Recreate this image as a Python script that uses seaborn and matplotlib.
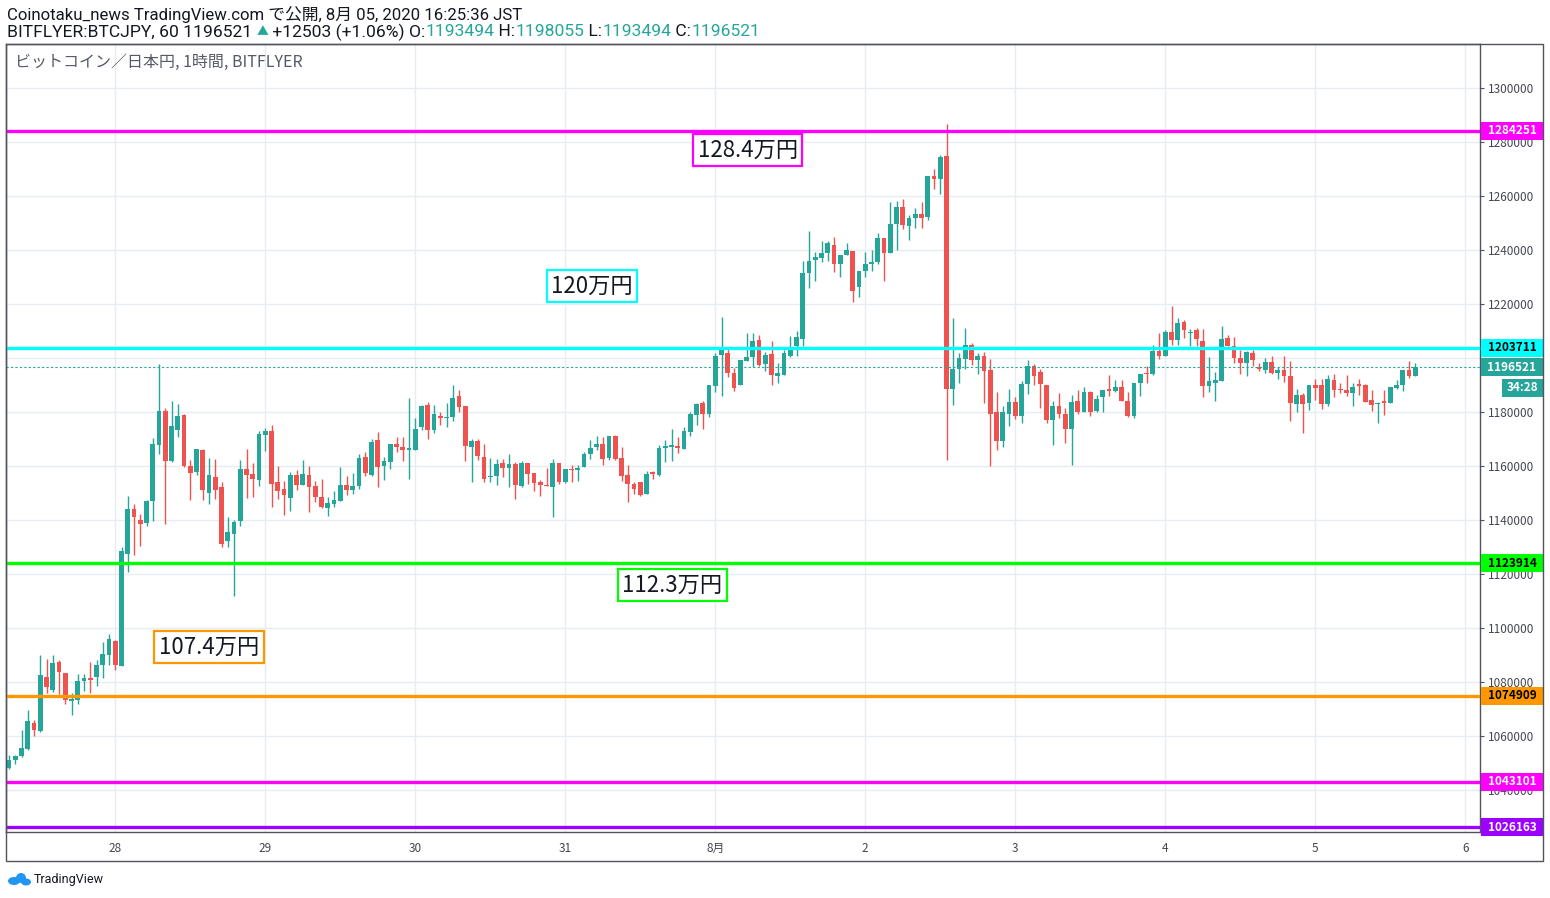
import numpy as np
import pandas as pd
import matplotlib
matplotlib.use("Agg")
import matplotlib.pyplot as plt
import matplotlib.transforms as mtransforms
from matplotlib.patches import Rectangle, Ellipse
import seaborn as sns

# ---------------- data ----------------
start_time = "2020-07-27 07:00"

opens = [
    1048100, 1051000, 1052500, 1055300, 1064800, 1062000, 1081900, 1077200, 1087400, 1083300,
    1073100, 1073200, 1080200, 1081500, 1081700, 1086200, 1089900, 1095300, 1085800, 1127300,
    1144200, 1140000, 1138800, 1147100, 1167900, 1180500, 1161700, 1173400, 1179000, 1160100,
    1157600, 1166000, 1149900, 1155900, 1152200, 1132100, 1134900, 1139500, 1159000, 1157100,
    1154900, 1171600, 1173100, 1154100, 1151600, 1148000, 1156800, 1153100, 1156800, 1152700,
    1148600, 1144300, 1146000, 1146900, 1153100, 1151000, 1152500, 1163200, 1156800, 1169700,
    1159900, 1161400, 1168300, 1167200, 1165800, 1165800, 1174300, 1182700, 1173200, 1178600,
    1177700, 1178000, 1186100, 1182300, 1166900, 1169400, 1163500, 1155800, 1156200, 1161200,
    1159100, 1160900, 1152700, 1161200, 1157500, 1154000, 1153000, 1152300, 1161000, 1154200,
    1158800, 1158600, 1159800, 1164300, 1167200, 1168100, 1163100, 1171100, 1163100, 1156800,
    1153300, 1153900, 1149600, 1157400, 1156700, 1166800, 1167200, 1167400, 1166400, 1172700,
    1179000, 1183200, 1179300, 1189600, 1201200, 1202000, 1194600, 1189900, 1199000, 1200200,
    1206800, 1197700, 1201600, 1193200, 1193800, 1200900, 1204600, 1206900, 1231600, 1236400,
    1237200, 1238800, 1242000, 1234700, 1238000, 1239800, 1226200, 1232100, 1234700, 1235400,
    1244600, 1238800, 1249800, 1255900, 1248800, 1251700, 1253400, 1252100, 1267400, 1266200,
    1274800, 1188400, 1195800, 1199800, 1204900, 1199100, 1200900, 1195700, 1180000, 1169100,
    1179400, 1183700, 1178400, 1190500, 1197000, 1194800, 1190100, 1176900, 1182200, 1179400,
    1173800, 1184100, 1180000, 1187500, 1180500, 1185400, 1188300, 1187900, 1189300, 1184200,
    1178600, 1190600, 1194300, 1194200, 1202500, 1200900, 1209600, 1206800, 1213500, 1209100,
    1210500, 1206400, 1189700, 1190900, 1191600, 1207500, 1204600, 1200100, 1198000, 1202000,
    1196800, 1195600, 1198700, 1194400, 1195400, 1193200, 1183000, 1186200, 1183400, 1189900,
    1189900, 1183000, 1191700, 1188400, 1188000, 1187100, 1190000, 1190000, 1184600, 1182800,
    1184000, 1183400, 1188900, 1190000, 1195400, 1193494,
]
highs = [
    1053100, 1052800, 1062300, 1069500, 1066000, 1090100, 1088500, 1090100, 1088300, 1083500,
    1075900, 1083100, 1083100, 1087400, 1088000, 1094700, 1097900, 1095700, 1130000, 1149000,
    1146100, 1142400, 1147500, 1170200, 1197900, 1181500, 1184200, 1183000, 1179400, 1162300,
    1166300, 1166300, 1163000, 1162700, 1154100, 1141100, 1140100, 1162300, 1166300, 1161100,
    1173100, 1174100, 1175300, 1160100, 1154600, 1157900, 1158600, 1162300, 1160100, 1154600,
    1155300, 1148500, 1150600, 1159500, 1156400, 1157400, 1164600, 1165100, 1170000, 1172500,
    1163300, 1168300, 1170900, 1170900, 1185300, 1177800, 1182700, 1183800, 1182700, 1179900,
    1183500, 1190100, 1188300, 1182300, 1170000, 1170000, 1168300, 1163000, 1162700, 1162700,
    1164600, 1161400, 1161700, 1161200, 1157500, 1154900, 1159100, 1162600, 1161000, 1158800,
    1160400, 1160400, 1165300, 1169600, 1171100, 1170900, 1171100, 1171500, 1167200, 1160400,
    1154200, 1153900, 1158000, 1158100, 1167800, 1169600, 1173800, 1170600, 1174300, 1180100,
    1183500, 1184200, 1190000, 1202000, 1215100, 1203300, 1196200, 1199300, 1209400, 1209400,
    1208600, 1202300, 1206400, 1198000, 1203000, 1208000, 1210100, 1236000, 1247200, 1239400,
    1243500, 1243200, 1245000, 1238300, 1242500, 1239800, 1232300, 1239100, 1240100, 1246400,
    1244600, 1257900, 1258300, 1259000, 1252900, 1255700, 1257600, 1267400, 1270100, 1275300,
    1286800, 1214900, 1201900, 1211200, 1205700, 1201900, 1202200, 1199800, 1187400, 1182200,
    1188600, 1185600, 1191500, 1199400, 1197900, 1195800, 1190100, 1184100, 1187200, 1181500,
    1186200, 1188300, 1189400, 1187900, 1186300, 1188300, 1193800, 1192000, 1192000, 1187500,
    1190900, 1194200, 1196900, 1204900, 1209400, 1210500, 1219400, 1214900, 1214200, 1210900,
    1211200, 1210900, 1200200, 1194900, 1212000, 1208600, 1207900, 1203100, 1202700, 1203100,
    1198300, 1200000, 1200900, 1196800, 1200900, 1199000, 1188700, 1187200, 1189900, 1192100,
    1192100, 1193700, 1194000, 1190600, 1193700, 1190700, 1192200, 1190400, 1188000, 1183800,
    1188000, 1189100, 1191900, 1195400, 1199000, 1198055,
]
lows = [
    1047900, 1049500, 1052200, 1054700, 1059900, 1061600, 1075900, 1076200, 1075700, 1072000,
    1067600, 1071800, 1076500, 1075900, 1078400, 1081500, 1086400, 1084300, 1085800, 1120600,
    1127100, 1130300, 1137800, 1139500, 1164400, 1138500, 1161300, 1170600, 1159500, 1147500,
    1156800, 1147500, 1146000, 1147800, 1130000, 1129900, 1111700, 1137600, 1148000, 1148400,
    1152500, 1165400, 1145000, 1147900, 1141700, 1143200, 1151200, 1153100, 1142800, 1146500,
    1144400, 1141300, 1144700, 1146900, 1149400, 1149600, 1151400, 1156400, 1156400, 1152100,
    1154900, 1158900, 1165100, 1161700, 1155200, 1165800, 1173200, 1169900, 1172200, 1175100,
    1174300, 1176500, 1179900, 1162000, 1153900, 1162300, 1153900, 1153900, 1153100, 1155800,
    1152100, 1147800, 1152100, 1153500, 1150600, 1148800, 1152600, 1141000, 1153200, 1153800,
    1154200, 1154600, 1159800, 1162600, 1165900, 1160400, 1162200, 1162200, 1154600, 1146800,
    1149700, 1148900, 1149600, 1155300, 1156400, 1161600, 1162000, 1165000, 1166200, 1171000,
    1175100, 1173800, 1178300, 1187500, 1186000, 1193100, 1187900, 1189900, 1198800, 1196500,
    1197200, 1195300, 1189900, 1190700, 1193600, 1200200, 1200900, 1204600, 1225800, 1228600,
    1235700, 1235800, 1232000, 1229900, 1238000, 1220600, 1222700, 1229900, 1232100, 1234900,
    1228400, 1238800, 1240100, 1247700, 1243600, 1248200, 1248300, 1251000, 1262500, 1260900,
    1162100, 1182700, 1190900, 1195800, 1197500, 1194200, 1183500, 1159900, 1166000, 1167000,
    1174700, 1177300, 1175900, 1186800, 1189900, 1181600, 1176000, 1167600, 1177800, 1168600,
    1160200, 1179400, 1180000, 1178400, 1180100, 1180100, 1186000, 1187300, 1184200, 1178300,
    1177800, 1186000, 1190600, 1193800, 1199800, 1200900, 1204900, 1204900, 1207400, 1204600,
    1204400, 1185400, 1187300, 1183900, 1191600, 1204600, 1198000, 1194200, 1193500, 1197200,
    1195300, 1194500, 1194000, 1192200, 1191100, 1176800, 1180100, 1172100, 1180800, 1184400,
    1181200, 1182300, 1185600, 1186900, 1186000, 1182300, 1186300, 1183800, 1180500, 1176100,
    1179000, 1183400, 1188700, 1187800, 1192600, 1193494,
]
closes = [
    1051200, 1052500, 1055500, 1065400, 1062100, 1082700, 1078000, 1087000, 1083600, 1073200,
    1073800, 1080500, 1081500, 1080900, 1086400, 1090500, 1096100, 1086200, 1128400, 1144200,
    1141000, 1138500, 1147100, 1168300, 1180500, 1161700, 1174700, 1178600, 1159900, 1157400,
    1166300, 1151000, 1156800, 1151200, 1131200, 1135500, 1139200, 1159000, 1156800, 1155300,
    1172000, 1173100, 1153500, 1150600, 1149400, 1156800, 1153100, 1157100, 1152100, 1148400,
    1144700, 1146300, 1147500, 1153100, 1151000, 1152600, 1163100, 1157300, 1169000, 1159700,
    1162000, 1168300, 1166900, 1165800, 1166800, 1173800, 1182300, 1173200, 1179400, 1177700,
    1178300, 1185300, 1181700, 1167300, 1169400, 1163600, 1155300, 1156400, 1160900, 1159100,
    1160900, 1153100, 1161200, 1157200, 1153600, 1153000, 1152600, 1161000, 1154200, 1158800,
    1158400, 1159300, 1164400, 1166800, 1168100, 1162600, 1171100, 1162600, 1156400, 1153500,
    1151500, 1149300, 1157000, 1157200, 1166800, 1167400, 1167400, 1166800, 1173000, 1179300,
    1182800, 1179300, 1190000, 1200800, 1202800, 1194300, 1188800, 1199300, 1200500, 1206400,
    1197500, 1201200, 1193600, 1194600, 1202000, 1203000, 1207900, 1231600, 1236000, 1237500,
    1239000, 1242500, 1234700, 1238300, 1240100, 1224900, 1232300, 1234900, 1235400, 1244600,
    1238800, 1249800, 1256100, 1249200, 1252000, 1253400, 1251700, 1267400, 1266200, 1274500,
    1188400, 1196000, 1200100, 1204900, 1199100, 1200900, 1195100, 1179400, 1169100, 1180000,
    1183700, 1178400, 1190500, 1197000, 1193200, 1190200, 1176900, 1182200, 1179100, 1173800,
    1183700, 1180000, 1187500, 1180100, 1184800, 1188300, 1187900, 1189300, 1184200, 1178600,
    1190900, 1194200, 1193900, 1202700, 1200900, 1209600, 1206800, 1213100, 1210300, 1209400,
    1206900, 1189700, 1191600, 1192000, 1207200, 1204600, 1199900, 1198300, 1202300, 1199400,
    1196000, 1198500, 1194400, 1195400, 1193300, 1183400, 1186200, 1183000, 1189900, 1188900,
    1183000, 1192400, 1188200, 1188200, 1187100, 1189300, 1189800, 1183800, 1182700, 1183400,
    1183400, 1189100, 1189900, 1195400, 1193200, 1196521,
]

level_values = [1284251, 1203711, 1123914, 1074909, 1043101, 1026163]
level_colors = ["#ff00ff", "#00ffff", "#00ff00", "#ff9800", "#ff00ff", "#9c00ff"]
level_text_colors = ["white", "black", "black", "black", "white", "white"]

last_price = 1196521
countdown = "34:28"
ytick_values = list(range(1040000, 1300001, 20000))

note_texts = ["128.4万円", "120万円", "112.3万円", "107.4万円"]
note_colors = ["#ff00ff", "#00ffff", "#00ff00", "#ff9800"]

header1 = "Coinotaku_news TradingView.com で公開, 8月 05, 2020 16:25:36 JST"
chart_title = "ビットコイン／日本円, 1時間, BITFLYER"

UP = "#26a69a"
DOWN = "#ef5350"
TEXT = "#131722"

# ---------------- build frame ----------------
times = pd.date_range(start_time, periods=len(opens), freq="h")
df = pd.DataFrame({"time": times, "open": opens, "high": highs, "low": lows, "close": closes})
t0 = times[0]
df["x"] = (df["time"] - t0) / pd.Timedelta(hours=1)
df["up"] = df["close"] >= df["open"]
df["color"] = np.where(df["up"], UP, DOWN)
df["bottom"] = df[["open", "close"]].min(axis=1)
df["height"] = (df["close"] - df["open"]).abs().clip(lower=450)

day_starts = pd.date_range("2020-07-28", "2020-08-06", freq="D")
day_pos = [(d - t0) / pd.Timedelta(hours=1) for d in day_starts]
day_labels = ["8月" if d.day == 1 else str(d.day) for d in day_starts]

# ---------------- figure ----------------
sns.set_theme(style="white")
plt.rcParams["font.family"] = ["Noto Sans CJK JP", "DejaVu Sans"]
HEAD_FONT = ["Roboto", "Noto Sans CJK JP", "DejaVu Sans"]

W, H = 1550, 898
fig = plt.figure(figsize=(W / 100, H / 100), dpi=100)
fig.patch.set_facecolor("white")
ax = fig.add_axes([6 / W, 1 - 832 / H, (1480 - 6) / W, (832 - 44) / H])
ax.set_facecolor("white")

xmin = (6 - 9) / 6.25
xmax = (1480 - 9) / 6.25
ax.set_xlim(xmin, xmax)
ax.set_ylim(1024445, 1316300)

# grid
for v in ytick_values:
    ax.axhline(v, color="#e6ecf0", lw=1.0, zorder=0)
for p in day_pos:
    ax.axvline(p, color="#e6ecf0", lw=1.0, zorder=0)

# candles
ax.vlines(df["x"], df["low"], df["high"], colors=df["color"], lw=1.0, zorder=2)
ax.bar(df["x"], df["height"], bottom=df["bottom"], width=0.74, color=df["color"],
       linewidth=0, zorder=3)

# level lines
for v, c in zip(level_values, level_colors):
    ax.axhline(v, color=c, lw=2.4, zorder=4)
ax.axhline(last_price, color=UP, lw=0.8, ls=(0, (2, 2)), zorder=4)

# annotation boxes
note_pos = [(118.2, 1277000), (93.3, 1226700), (106.1, 1115900), (32.0, 1093000)]
for txt, c, (px, py) in zip(note_texts, note_colors, note_pos):
    ax.text(px, py, txt, fontsize=16, ha="center", va="center", color=TEXT, zorder=6,
            bbox=dict(boxstyle="square,pad=0.2", fc="white", ec=c, lw=1.6))

# axes styling
for s in ax.spines.values():
    s.set_color("#50535e")
    s.set_linewidth(1.0)
ax.yaxis.tick_right()
ax.set_yticks(ytick_values)
# the 1200000 label sits fully behind the coloured price tags in the original
ax.set_yticklabels(["" if v == 1200000 else str(v) for v in ytick_values])
ax.tick_params(axis="y", which="both", right=True, left=False, length=3, width=0.8,
               color="#50535e", labelsize=8.5, labelcolor="#434651", pad=3)
ax.set_xticks(day_pos)
ax.set_xticklabels(day_labels)
ax.tick_params(axis="x", length=0, labelsize=8.5, labelcolor="#434651", pad=7)
ax.grid(False)

# price labels on right axis
blend = mtransforms.blended_transform_factory(fig.transFigure, ax.transData)
px_per_yen = (832 - 44) / (1316300 - 1024445)
box_h = 18 / px_per_yen
for v, c, tc in zip(level_values + [last_price], level_colors + [UP], level_text_colors + ["white"]):
    ax.add_patch(Rectangle((1481 / W, v - box_h / 2), 62 / W, box_h, transform=blend,
                           facecolor=c, edgecolor="none", clip_on=False, zorder=7))
    ax.text(1512 / W, v, str(v), transform=blend, ha="center", va="center", fontsize=8.5,
            fontweight="bold", color=tc, clip_on=False, zorder=8)
cd_center = last_price - 20.5 / px_per_yen
ax.add_patch(Rectangle((1502 / W, cd_center - box_h / 2), 41 / W, box_h, transform=blend,
                       facecolor=UP, edgecolor="none", clip_on=False, zorder=7))
ax.text(1522.5 / W, cd_center, countdown, transform=blend, ha="center", va="center",
        fontsize=8.5, fontweight="bold", color="white", clip_on=False, zorder=8)

# outer frame
fig.patches.append(Rectangle((6 / W, 1 - 861 / H), (1543 - 6) / W, (861 - 44) / H,
                             transform=fig.transFigure, fill=False, edgecolor="#50535e",
                             lw=1.0, zorder=1))

# header texts
fig.text(7 / W, 1 - 15 / H, header1, fontsize=12.1, color=TEXT, va="center", ha="left",
         family=HEAD_FONT)
FS2 = 12.6
segments = [
    ("BITFLYER:BTCJPY, 60 1196521 ", TEXT, FS2),
    ("▲", UP, 8.5),
    (" +12503 (+1.06%) O:", TEXT, FS2),
    ("1193494", UP, FS2),
    (" H:", TEXT, FS2),
    ("1198055", UP, FS2),
    (" L:", TEXT, FS2),
    ("1193494", UP, FS2),
    (" C:", TEXT, FS2),
    ("1196521", UP, FS2),
]
renderer = fig.canvas.get_renderer()
xpix = 7
for s, c, fs in segments:
    t = fig.text(xpix / W, 1 - 32 / H, s, fontsize=fs, color=c, va="center", ha="left",
                 family=HEAD_FONT)
    bb = t.get_window_extent(renderer=renderer)
    xpix += bb.width
fig.text(15 / W, 1 - 62 / H, chart_title, fontsize=11.5, color="#555a66", va="center",
         ha="left")

# TradingView logo
logo_c = "#2196f3"
for (cx, cy, w, h) in [(14, 881, 12, 8), (21, 878, 10, 10), (26, 882, 10, 7)]:
    fig.patches.append(Ellipse((cx / W, 1 - cy / H), w / W, h / H, transform=fig.transFigure,
                               facecolor=logo_c, edgecolor="none"))
fig.text(34 / W, 1 - 880 / H, "TradingView", fontsize=9, color=TEXT, va="center", ha="left",
         family=HEAD_FONT)

fig.savefig("out.png", dpi=100, facecolor="white")
